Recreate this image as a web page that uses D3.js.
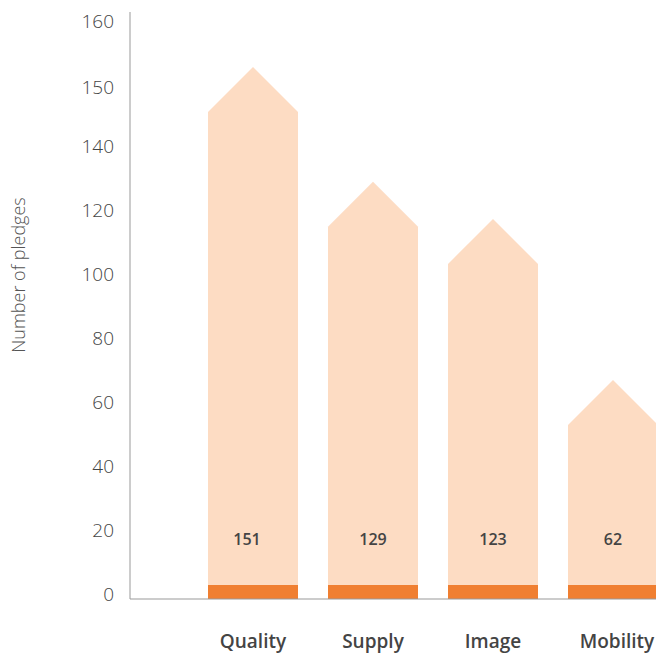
<!DOCTYPE html>
<html>
<head>
<meta charset="utf-8">
<script src="https://cdn.jsdelivr.net/npm/d3@7"></script>
<style>
  body { margin: 0; background: #fff; overflow: hidden; }
  svg { display: block; font-family: "Open Sans", "DejaVu Sans", sans-serif; }
</style>
</head>
<body>
<div id="chart"></div>
<script>
// categories and pledge counts
const categories = ["Quality", "Supply", "Image", "Mobility"];
const pledges = [151, 129, 123, 62];
// level (in axis units) where each bar's straight sides end and the roof starts
const barLevels = [146.6, 116.3, 104.7, 54.4];

// axis labels, the top of the axis is not evenly spaced
const tickValues = [0, 20, 40, 60, 80, 100, 120, 140, 150, 160];

const width = 656, height = 653;

const svg = d3.select('#chart').append('svg')
    .attr('width', width)
    .attr('height', height);

const y = d3.scaleLinear()
    .domain([0, 140, 150, 160])
    .range([599, 151, 92, 26]);

const x = d3.scaleBand()
    .domain(categories)
    .range([193, 673])
    .paddingInner(0.25)
    .paddingOuter(0.125);

const bw = x.bandwidth();
const roof = bw / 2;

const bars = categories.map((c, i) => ({ name: c, value: pledges[i], level: barLevels[i] }));

// house shaped bars
svg.selectAll('.bar')
    .data(bars)
    .enter()
    .append('path')
    .attr('class', 'bar')
    .attr('d', d => {
        const x0 = x(d.name), x1 = x0 + bw, ys = y(d.level), yb = y(0);
        return `M${x0},${yb}L${x0},${ys}L${x0 + bw / 2},${ys - roof}L${x1},${ys}L${x1},${yb}Z`;
    })
    .attr('fill', '#fddcc3');

// orange strip at the foot of each bar
svg.selectAll('.foot')
    .data(bars)
    .enter()
    .append('rect')
    .attr('class', 'foot')
    .attr('x', d => x(d.name))
    .attr('y', y(0) - 14)
    .attr('width', bw)
    .attr('height', 14)
    .attr('fill', '#f07f31');

// value labels
svg.selectAll('.value')
    .data(bars)
    .enter()
    .append('text')
    .attr('class', 'value')
    .attr('x', (d, i) => x(d.name) + bw / 2 + (i === 0 ? -6 : 0))
    .attr('y', 545)
    .attr('text-anchor', 'middle')
    .attr('font-size', '16px')
    .attr('font-weight', 600)
    .attr('fill', '#444')
    .text(d => d.value);

// category labels
svg.selectAll('.cat')
    .data(bars)
    .enter()
    .append('text')
    .attr('class', 'cat')
    .attr('x', (d, i) => x(d.name) + bw / 2 + (i === 3 ? 4 : 0))
    .attr('y', 648)
    .attr('text-anchor', 'middle')
    .attr('font-size', '19px')
    .attr('font-weight', 600)
    .attr('fill', '#444')
    .text(d => d.name);

// y axis
const yAxis = svg.append('g')
    .attr('transform', 'translate(130,0)')
    .call(d3.axisLeft(y).tickValues(tickValues).tickSize(0).tickPadding(16));
yAxis.select('.domain').remove();
yAxis.selectAll('text')
    .attr('font-size', '19px')
    .attr('font-weight', 300)
    .attr('font-family', '"Open Sans", sans-serif')
    .attr('fill', '#444')
    .attr('dy', '0.1em');

svg.append('line')
    .attr('x1', 130).attr('x2', 130)
    .attr('y1', 12).attr('y2', y(0))
    .attr('stroke', '#aaa')
    .attr('stroke-width', 1.2);

svg.append('line')
    .attr('x1', 130).attr('x2', width)
    .attr('y1', y(0)).attr('y2', y(0))
    .attr('stroke', '#999')
    .attr('stroke-width', 1.2);

// axis title
svg.append('text')
    .attr('transform', 'translate(25,275) rotate(-90)')
    .attr('text-anchor', 'middle')
    .attr('font-size', '18px')
    .attr('font-weight', 300)
    .attr('fill', '#555')
    .text('Number of pledges');
</script>
</body>
</html>
